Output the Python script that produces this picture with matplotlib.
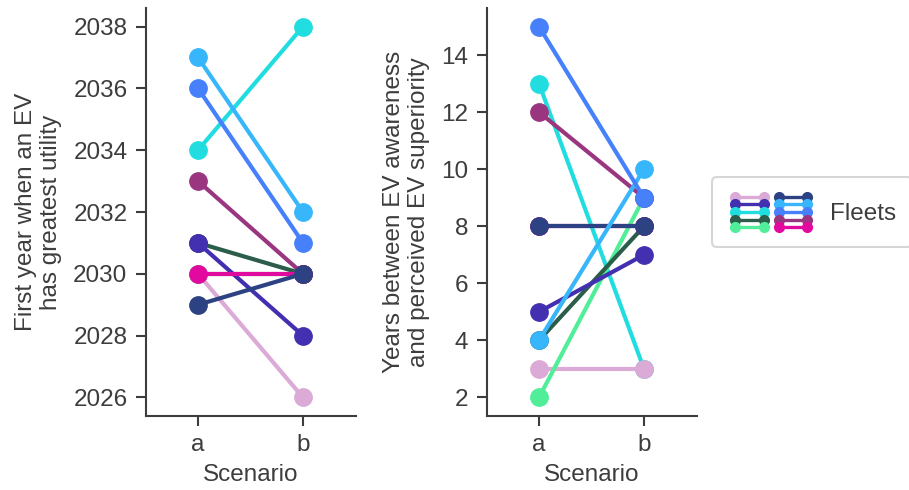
import matplotlib
matplotlib.use("Agg")
import matplotlib.pyplot as plt
from matplotlib.legend_handler import HandlerBase
from matplotlib.lines import Line2D

plt.rcParams['font.family'] = ['Liberation Sans', 'DejaVu Sans']

TEXT = "#3d3d3d"

# fleets, in legend order (column 1 top->bottom, then column 2)
fleet_colors = ["#dbaad6", "#4330b0", "#22dde0", "#2b5d4a", "#50ee98",
                "#2d4283", "#38b6fc", "#4680fb", "#9a3680", "#e20a9e"]
scenarios = ["a", "b"]
# first year when an EV has greatest utility
year_a = [2030, 2031, 2034, 2031, 2030, 2029, 2037, 2036, 2033, 2030]
year_b = [2026, 2028, 2038, 2030, 2030, 2030, 2032, 2031, 2030, 2030]
# years between EV awareness and perceived EV superiority
gap_a = [3, 5, 13, 4, 2, 8, 4, 15, 12, 8]
gap_b = [3, 7, 3, 8, 9, 8, 10, 9, 9, 8]

# order in which the fleets are drawn (later ones on top)
draw_order = [2, 0, 4, 3, 1, 8, 9, 5, 6, 7]


class GridHandler(HandlerBase):
    """Draw a tuple of line handles as a 2 x 5 grid of small dumbbells."""

    def create_artists(self, legend, orig_handle, xdescent, ydescent,
                       width, height, fontsize, trans):
        nrow = 5
        colw = width / 2
        artists = []
        for i, h in enumerate(orig_handle):
            col, row = divmod(i, nrow)
            y = -ydescent + height * (1 - (row + 0.5) / nrow)
            x0 = -xdescent + col * colw + 0.16 * colw
            x1 = x0 + 0.66 * colw
            artists.append(Line2D([x0, x1], [y, y], color=h.get_color(), lw=2.4,
                                  marker='o', ms=7, transform=trans))
        return artists


fig = plt.figure(figsize=(9.09, 4.9), dpi=100)
ax1 = fig.add_axes([145.5 / 909, 1 - 416 / 490, 210 / 909, 408 / 490])
ax2 = fig.add_axes([486.5 / 909, 1 - 416 / 490, 210 / 909, 408 / 490])

x = list(range(len(scenarios)))
for ax, va, vb, label in [
    (ax1, year_a, year_b, "First year when an EV\nhas greatest utility"),
    (ax2, gap_a, gap_b, "Years between EV awareness\nand perceived EV superiority"),
]:
    for i in draw_order:
        ax.plot(x, [va[i], vb[i]], color=fleet_colors[i], lw=3, marker='o', ms=12.5)
    ax.set_xlim(-0.5, 1.5)
    ax.set_xticks(x)
    ax.set_xticklabels(scenarios)
    ax.set_xlabel("Scenario", fontsize=17.5, color=TEXT, labelpad=6)
    ax.set_ylabel(label, fontsize=17.5, color=TEXT, labelpad=8)
    ax.tick_params(labelsize=17.5, labelcolor=TEXT, color=TEXT, length=7, width=1.5, pad=6)
    for side in ["top", "right"]:
        ax.spines[side].set_visible(False)
    for side in ["left", "bottom"]:
        ax.spines[side].set_color(TEXT)
        ax.spines[side].set_linewidth(1.5)

ax2.set_yticks([2, 4, 6, 8, 10, 12, 14])

handles = tuple(Line2D([], [], color=c) for c in fleet_colors)
leg = fig.legend([handles], ["Fleets"], handler_map={tuple: GridHandler()},
                 loc='center left', bbox_to_anchor=(712 / 909, 1 - 212 / 490),
                 borderaxespad=0, fontsize=17.5, handlelength=3.6, handleheight=2.0,
                 handletextpad=0.6, borderpad=0.65, frameon=True, fancybox=True)
leg.get_frame().set_edgecolor("#cccccc")
leg.get_frame().set_linewidth(1.5)
for t in leg.get_texts():
    t.set_color(TEXT)

fig.savefig("out.png", dpi=100)
